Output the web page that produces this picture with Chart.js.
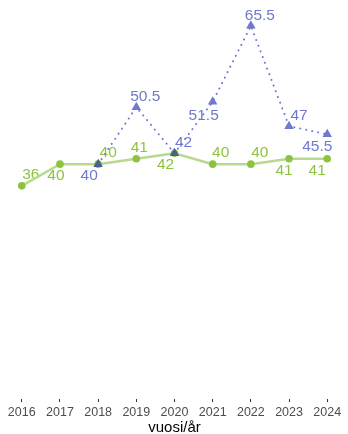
<!DOCTYPE html>
<html>
<head>
<meta charset="utf-8">
<script src="https://cdn.jsdelivr.net/npm/chart.js@4/dist/chart.umd.min.js"></script>
<style>
  html, body { margin: 0; padding: 0; background: #fff; }
  #wrap { width: 348px; height: 434px; }
</style>
</head>
<body>
<div id="wrap"><canvas id="chart"></canvas></div>
<script>
const years = [2016, 2017, 2018, 2019, 2020, 2021, 2022, 2023, 2024];
const greenValues = [36, 40, 40, 41, 42, 40, 40, 41, 41];
const blueYears = [2018, 2019, 2020, 2021, 2022, 2023, 2024];
const blueValues = [40, 50.5, 42, 51.5, 65.5, 47, 45.5];
const xTitle = "vuosi/år";

// label offsets from the mark, in px (placement only)
const greenLabelDx = [9, -4, 10, 3, -9, 8, 9, -5, -10];
const greenLabelDy = [-11, 12, -11, -11, 11, -11, -11, 12, 12];
const blueLabelDx = [-9, 9, 9, -9, 9, 10, -10];
const blueLabelDy = [12, -10, -11, 14, -10, -10, 12];

const GREEN = "#8cc43f";
const GREEN_LINE = "#b8da8f";
const BLUE = "#6f79cd";
const BLUE_DARK = "#4b5f92";

const FONT = "'Liberation Sans', Arial, sans-serif";

const pointLabels = {
  id: "pointLabels",
  beforeDatasetsDraw(chart) {
    const ctx = chart.ctx;
    ctx.save();
    ctx.font = "15.5px " + FONT;
    ctx.textAlign = "center";
    ctx.textBaseline = "middle";
    chart.data.datasets.forEach((ds, di) => {
      const meta = chart.getDatasetMeta(di);
      meta.data.forEach((pt, i) => {
        ctx.fillStyle = ds.labelColor;
        ctx.fillText(String(ds.data[i].y), pt.x + ds.labelDx[i], pt.y + ds.labelDy[i]);
      });
    });
    ctx.restore();
  },
};

new Chart(document.getElementById("chart"), {
  type: "line",
  data: {
    datasets: [
      {
        label: "blue",
        data: blueYears.map((x, i) => ({ x, y: blueValues[i] })),
        borderColor: BLUE,
        borderWidth: 2,
        borderDash: [0.1, 6],
        borderCapStyle: "round",
        pointStyle: "triangle",
        pointRadius: 5.5,
        pointBorderWidth: 0,
        pointBackgroundColor: (c) => {
          const x = blueYears[c.dataIndex];
          const gi = years.indexOf(x);
          return gi >= 0 && greenValues[gi] === blueValues[c.dataIndex] ? BLUE_DARK : BLUE;
        },
        labelColor: BLUE,
        labelDx: blueLabelDx,
        labelDy: blueLabelDy,
        order: 0,
      },
      {
        label: "green",
        data: years.map((x, i) => ({ x, y: greenValues[i] })),
        borderColor: GREEN_LINE,
        borderWidth: 2.5,
        pointStyle: "circle",
        pointRadius: 3.8,
        pointBorderWidth: 0,
        pointBackgroundColor: GREEN,
        labelColor: GREEN,
        labelDx: greenLabelDx,
        labelDy: greenLabelDy,
        order: 1,
      },
    ],
  },
  options: {
    responsive: true,
    maintainAspectRatio: false,
    animation: false,
    layout: { padding: { left: 6.5, right: 0.5, top: 8, bottom: 0 } },
    plugins: { legend: { display: false }, tooltip: { enabled: false } },
    scales: {
      x: {
        type: "linear",
        min: 2015.6,
        max: 2024.4,
        afterBuildTicks: (s) => { s.ticks = years.map((v) => ({ value: v })); },
        afterFit: (s) => { s.height = 35; },
        border: { display: false },
        grid: { drawOnChartArea: false, tickLength: 3, tickColor: "#333333", lineWidth: 1 },
        ticks: {
          color: "#4d4d4d",
          font: { family: FONT, size: 12.5 },
          padding: 3,
          maxRotation: 0,
          autoSkip: false,
          callback: (v) => String(v),
        },
        title: {
          display: true,
          text: xTitle,
          color: "#000000",
          font: { family: FONT, size: 15, lineHeight: 1 },
          padding: { top: 0, bottom: -1.5 },
        },
      },
      y: {
        display: false,
        min: -3.275,
        max: 68.775,
      },
    },
  },
  plugins: [pointLabels],
});
</script>
</body>
</html>
